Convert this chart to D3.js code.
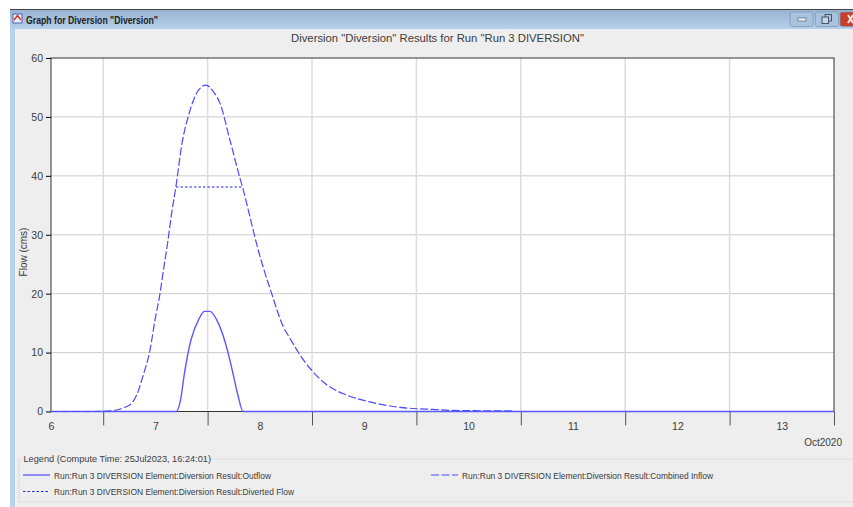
<!DOCTYPE html>
<html>
<head>
<meta charset="utf-8">
<script src="https://cdn.jsdelivr.net/npm/d3@7"></script>
<style>
  html, body { margin: 0; padding: 0; background: #fff; }
  svg { display: block; }
  text { font-family: "Liberation Sans", sans-serif; fill: #3c3c3c; }
  .domain { display: none; }
</style>
</head>
<body>
<div id="graph"></div>
<script>
// values, time in days of October 2020
const inflowDays = [6, 6.374, 6.565, 6.69, 6.773, 6.821, 6.884, 6.948, 6.996, 7.044, 7.082, 7.108,
  7.156, 7.197, 7.252, 7.325, 7.411, 7.485, 7.555, 7.619, 7.715, 7.81, 7.836, 7.906, 7.976,
  8.114, 8.225, 8.289, 8.385, 8.497, 8.608, 8.8, 8.96, 9.151, 9.343, 9.503, 9.659, 9.822,
  10.109, 10.397, 10.45];
const inflowValues = [0, 0, 0.1, 0.6, 1.4, 2.8, 6.2, 10.4, 15.5, 20, 24.6, 27.5,
  33.7, 38.2, 45.2, 50.7, 54.5, 55.4, 54.3, 52.3, 46, 39.6, 38, 33, 28,
  20, 14.4, 12.4, 9.6, 7, 5, 3, 2.05, 1.25, 0.7, 0.47, 0.36, 0.2,
  0.13, 0.1, 0];

const outflowDays = [6, 7.2, 7.24, 7.28, 7.34, 7.42, 7.47, 7.52, 7.61, 7.69, 7.74, 7.79, 7.84, 13.5];
const outflowValues = [0, 0, 1.9, 6.7, 12.1, 15.8, 17, 17, 14.7, 10.4, 6.7, 2.8, 0, 0];

const divertedDays = [7.197, 7.836];
const divertedValues = [38.1, 38.1];

const yTicks = [0, 10, 20, 30, 40, 50, 60];
const dayLabels = [6, 7, 8, 9, 10, 11, 12, 13];
const dayTicks = [6.5, 7.5, 8.5, 9.5, 10.5, 11.5, 12.5, 13.5];

const width = 853, height = 507;
const plotLeft = 51, plotRight = 834, plotTop = 58, plotBottom = 411.5;
const blue = "#4a4aff";

const svg = d3.select("#graph").append("svg")
    .attr("width", width)
    .attr("height", height);

// window frame
const grad = svg.append("defs").append("linearGradient")
    .attr("id", "bar").attr("x1", 0).attr("x2", 0).attr("y1", 0).attr("y2", 1);
grad.append("stop").attr("offset", 0).attr("stop-color", "#97b2d0");
grad.append("stop").attr("offset", 1).attr("stop-color", "#b6cfea");

svg.append("rect").attr("x", 10).attr("y", 9).attr("width", 843).attr("height", 498).attr("fill", "#b9d3ee");
svg.append("rect").attr("x", 10).attr("y", 9).attr("width", 843).attr("height", 20).attr("fill", "url(#bar)");
svg.append("rect").attr("x", 10).attr("y", 9).attr("width", 843).attr("height", 1).attr("fill", "#444");
svg.append("rect").attr("x", 15).attr("y", 29).attr("width", 838).attr("height", 478).attr("fill", "#eeeeee");

// window icon
svg.append("rect").attr("x", 13).attr("y", 14).attr("width", 9).attr("height", 9).attr("fill", "#e8eef8").attr("stroke", "#3348b0").attr("stroke-width", 0.8);
svg.append("path").attr("d", "M14 20 L17.5 15.5 L21 20").attr("fill", "none").attr("stroke", "#d8322a").attr("stroke-width", 1.5);

svg.append("text").attr("x", 26).attr("y", 23.5)
    .attr("font-size", 10.5).attr("font-weight", "bold").attr("textLength", 132)
    .attr("lengthAdjust", "spacingAndGlyphs").style("fill", "#222")
    .text('Graph for Diversion "Diversion"');

// window buttons
[[790, "#a9c3de"], [815.5, "#a9c3de"], [840, "#c8402c"]].forEach(b => {
    svg.append("rect").attr("x", b[0]).attr("y", 12).attr("width", b[0] == 840 ? 14 : 23).attr("height", 14.5)
        .attr("rx", 2).attr("fill", b[1]).attr("stroke", "#7f99b8").attr("stroke-width", 0.8);
});
svg.append("rect").attr("x", 798).attr("y", 18).attr("width", 8).attr("height", 3).attr("fill", "#eef3f8").attr("stroke", "#56657a").attr("stroke-width", 0.7);
svg.append("rect").attr("x", 825).attr("y", 14.5).attr("width", 6.5).attr("height", 6.5).attr("fill", "none").attr("stroke", "#44546a");
svg.append("rect").attr("x", 822).attr("y", 17).attr("width", 6.5).attr("height", 6.5).attr("fill", "#c4d6e8").attr("stroke", "#44546a");
svg.append("path").attr("d", "M848 15 L853 23 M853 15 L848 23").attr("stroke", "#f4e8e4").attr("stroke-width", 2);

// chart title
svg.append("text").attr("x", 437.5).attr("y", 42).attr("text-anchor", "middle")
    .attr("font-size", 11.3)
    .text('Diversion "Diversion" Results for Run "Run 3 DIVERSION"');

const x = d3.scaleLinear().domain([6, 13.5]).range([plotLeft, plotRight]);
const y = d3.scaleLinear().domain([0, 60]).range([plotBottom, plotTop]);

svg.append("rect").attr("x", plotLeft).attr("y", plotTop)
    .attr("width", plotRight - plotLeft).attr("height", plotBottom - plotTop).attr("fill", "#fff");

// grid
svg.append("g").selectAll("line").data(yTicks.slice(1, -1)).join("line")
    .attr("x1", plotLeft).attr("x2", plotRight)
    .attr("y1", d => y(d)).attr("y2", d => y(d))
    .attr("stroke", "#cccccc").attr("stroke-width", 1);
svg.append("g").selectAll("line").data(dayTicks.slice(0, -1)).join("line")
    .attr("y1", plotTop).attr("y2", plotBottom)
    .attr("x1", d => x(d)).attr("x2", d => x(d))
    .attr("stroke", "#dcdcdc").attr("stroke-width", 1.5);

// plot border
svg.append("rect").attr("x", plotLeft).attr("y", plotTop)
    .attr("width", plotRight - plotLeft).attr("height", plotBottom - plotTop)
    .attr("fill", "none").attr("stroke", "#333").attr("stroke-width", 1);

// axes
const yAxis = svg.append("g").attr("transform", `translate(${plotLeft},0)`)
    .call(d3.axisLeft(y).tickValues(yTicks).tickSize(5).tickPadding(3));
yAxis.selectAll("text").attr("font-size", 10.5).style("font-family", "Liberation Sans");

const xTicks = svg.append("g").attr("transform", `translate(0,${plotBottom})`)
    .call(d3.axisBottom(x).tickValues(dayTicks).tickSize(14).tickFormat(""));
xTicks.selectAll("line").attr("stroke", "#555");

const xLabels = svg.append("g").attr("transform", `translate(0,${plotBottom})`)
    .call(d3.axisBottom(x).tickValues(dayLabels).tickSize(0).tickPadding(11).tickFormat(d3.format("d")));
xLabels.selectAll("text").attr("font-size", 10.5).style("font-family", "Liberation Sans");

svg.append("text").attr("x", 842).attr("y", 445.5).attr("text-anchor", "end")
    .attr("font-size", 10).text("Oct2020");

svg.append("text").attr("transform", "translate(27,252) rotate(-90)")
    .attr("text-anchor", "middle").attr("font-size", 10).text("Flow (cms)");

// series
const line = (days, vals) => d3.line().x((d, i) => x(days[i])).y(d => y(d)).curve(d3.curveMonotoneX)(vals);

svg.append("path").attr("d", line(outflowDays, outflowValues))
    .attr("fill", "none").attr("stroke", "#5a5aff").attr("stroke-width", 1.4);
svg.append("path").attr("d", line(inflowDays, inflowValues))
    .attr("fill", "none").attr("stroke", blue).attr("stroke-width", 1.2).attr("stroke-dasharray", "8 2.5");
svg.append("path").attr("d", line(divertedDays, divertedValues))
    .attr("fill", "none").attr("stroke", "#2222ee").attr("stroke-width", 1).attr("stroke-dasharray", "2.5 2");

// legend
svg.append("path").attr("d", "M853 459 H19 V502 H853")
    .attr("fill", "none").attr("stroke", "#dcdcdc").attr("stroke-width", 1.2);
svg.append("rect").attr("x", 22).attr("y", 452).attr("width", 181).attr("height", 12).attr("fill", "#eeeeee");
svg.append("text").attr("x", 23.5).attr("y", 462).attr("font-size", 9.2)
    .text("Legend (Compute Time: 25Jul2023, 16:24:01)");

const legendRows = [
    {name: "Run:Run 3 DIVERSION Element:Diversion Result:Outflow", lx: 23, ly: 475, dash: null, w: 1.2, tw: 217},
    {name: "Run:Run 3 DIVERSION Element:Diversion Result:Combined Inflow", lx: 431, ly: 475, dash: "8 2.5", w: 1.2, tw: 251},
    {name: "Run:Run 3 DIVERSION Element:Diversion Result:Diverted Flow", lx: 23, ly: 491.5, dash: "2.5 2", w: 1, tw: 240}
];
legendRows.forEach(r => {
    svg.append("line").attr("x1", r.lx).attr("x2", r.lx + 27).attr("y1", r.ly).attr("y2", r.ly)
        .attr("stroke", r.dash == "2.5 2" ? "#2222ee" : blue).attr("stroke-width", r.w)
        .attr("stroke-dasharray", r.dash);
    svg.append("text").attr("x", r.lx + 31).attr("y", r.ly + 3.5)
        .attr("font-size", 9.2).attr("textLength", r.tw).attr("lengthAdjust", "spacingAndGlyphs")
        .text(r.name);
});
</script>
</body>
</html>
